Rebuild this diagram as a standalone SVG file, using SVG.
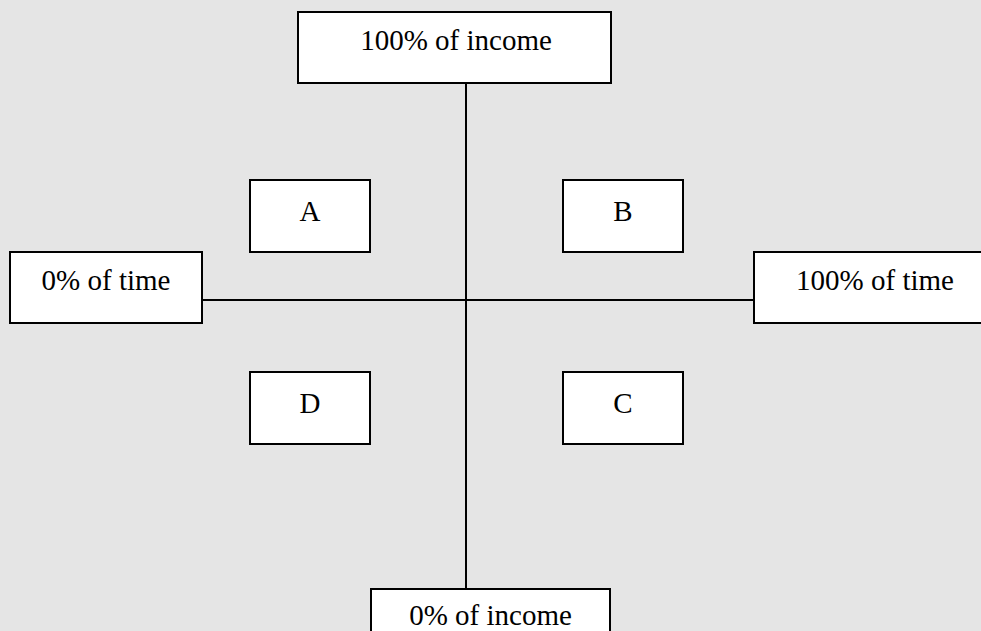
<svg xmlns="http://www.w3.org/2000/svg" width="981" height="631" viewBox="0 0 981 631">
<style>
.box{fill:#fff;stroke:#000;stroke-width:2}
.t{font-family:"Liberation Serif","Times New Roman",serif;font-size:29px;fill:#000;text-anchor:middle}
.ln{stroke:#000;stroke-width:2;fill:none}
</style>
<rect width="981" height="631" fill="#e5e5e5"/>
<g id="connectors">
<line class="ln" x1="466" y1="83" x2="466" y2="589"/>
<line class="ln" x1="202" y1="300" x2="754" y2="300"/>
</g>
<g id="top"><rect class="box" x="298" y="12" width="313" height="71"/><text class="t" x="456" y="50">100% of income</text></g>
<g id="left"><rect class="box" x="10" y="252" width="192" height="71"/><text class="t" x="106" y="290">0% of time</text></g>
<g id="right"><rect class="box" x="754" y="252" width="250" height="71"/><text class="t" x="875" y="290">100% of time</text></g>
<g id="bottom"><rect class="box" x="371" y="589" width="239" height="60"/><text class="t" x="490.5" y="625">0% of income</text></g>
<g id="A"><rect class="box" x="250" y="180" width="120" height="72"/><text class="t" x="310" y="221">A</text></g>
<g id="B"><rect class="box" x="563" y="180" width="120" height="72"/><text class="t" x="623" y="221">B</text></g>
<g id="D"><rect class="box" x="250" y="372" width="120" height="72"/><text class="t" x="310" y="413">D</text></g>
<g id="C"><rect class="box" x="563" y="372" width="120" height="72"/><text class="t" x="623" y="413">C</text></g>
</svg>
